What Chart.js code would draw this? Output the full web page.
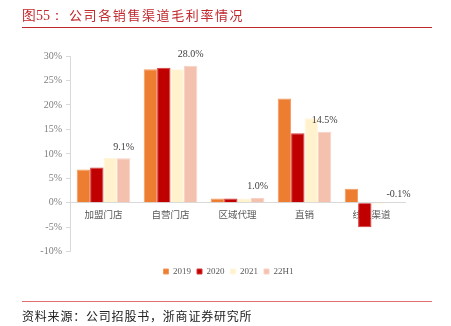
<!DOCTYPE html>
<html>
<head>
<meta charset="utf-8">
<script src="https://cdn.jsdelivr.net/npm/chart.js@4"></script>
<style>
  html, body { margin: 0; padding: 0; background: #fff; }
  #wrap { position: relative; width: 451px; height: 326px; overflow: hidden; }
  #chart { position: absolute; left: 0; top: 0; }
  .head { position: absolute; top: 5px; font: 13px "Noto Sans CJK SC", sans-serif; color: #C0282D; letter-spacing: 1.6px; white-space: nowrap; }
  .rule { position: absolute; left: 22px; width: 410px; height: 1px; }
  #src { position: absolute; left: 22px; top: 307px; font: 12px "Noto Sans CJK SC", sans-serif; color: #222; letter-spacing: 0.8px; white-space: nowrap; }
</style>
</head>
<body>
<div id="wrap">
  <canvas id="chart" width="451" height="326"></canvas>
  <div class="head" style="left:22px;letter-spacing:0"><span style="font-family:'Liberation Serif',serif;font-size:14px">图55：</span></div>
  <div class="head" style="left:69px">公司各销售渠道毛利率情况</div>
  <div class="rule" style="top:27px;background:#C0282D"></div>
  <div class="rule" style="top:301px;background:#E07070"></div>
  <div id="src">资料来源：公司招股书，浙商证券研究所</div>
</div>
<script>
// gross margin by sales channel, %
const channels = ['加盟门店', '自营门店', '区域代理', '直销', '线上渠道'];
const periods = ['2019', '2020', '2021', '22H1'];
const margin2019 = [6.8, 27.3, 0.9, 21.3, 2.9];
const margin2020 = [7.2, 27.6, 0.9, 14.2, -5.0];
const margin2021 = [9.2, 27.3, 0.9, 17.3, -0.3];
const margin22H1 = [9.1, 28.0, 1.0, 14.5, -0.1];
const yTicks = [-10, -5, 0, 5, 10, 15, 20, 25, 30];

const fills = ['#ED7D31', '#C00000', '#FFF2CC', '#F4C1AF'];
const edges = ['#F39A5C', '#D63A3A', '#FFF6DC', '#F8D2C4'];
const series = [margin2019, margin2020, margin2021, margin22H1];

// value labels only for the latest period
const lastLabels = {
  id: 'lastLabels',
  afterLayout(chart) {
    // nudge the legend row to the right
    chart.legend.left += 26;
    chart.legend.right += 26;
  },
  afterDatasetsDraw(chart) {
    const ctx = chart.ctx;
    const meta = chart.getDatasetMeta(3);
    const zero = chart.scales.y.getPixelForValue(0);
    ctx.save();
    ctx.font = '10px "Liberation Serif", serif';
    ctx.fillStyle = '#404040';
    ctx.textAlign = 'center';
    ctx.textBaseline = 'alphabetic';
    meta.data.forEach((bar, i) => {
      const v = margin22H1[i];
      const top = Math.min(bar.y, zero);
      const dx = v < 0 ? 7 : 0;
      ctx.fillText(v.toFixed(1) + '%', bar.x + dx, top - (v < 0 ? 6 : 8.5));
    });
    ctx.restore();
  }
};

new Chart(document.getElementById('chart'), {
  type: 'bar',
  data: {
    labels: channels,
    datasets: periods.map((p, k) => ({
      label: p,
      data: series[k],
      backgroundColor: fills[k],
      borderColor: edges[k],
      borderWidth: 1,
      categoryPercentage: 0.8,
      barPercentage: 1.0
    }))
  },
  options: {
    responsive: false,
    animation: false,
    layout: { padding: { left: 0, right: 46, top: 56, bottom: 40 } },
    plugins: {
      tooltip: { enabled: false },
      legend: {
        position: 'bottom',
        // empty title only adds room between the axis and the legend row
        title: { display: true, text: '', font: { size: 1 }, padding: { top: 0, bottom: 8 } },
        labels: {
          boxWidth: 5,
          boxHeight: 5,
          padding: 6,
          color: '#595959',
          font: { family: '"Liberation Serif", serif', size: 9 }
        }
      }
    },
    scales: {
      x: {
        position: { y: 0 },
        afterFit: s => { s.height = 0; },
        grid: { display: false, drawTicks: false },
        border: { display: true, color: '#D9D9D9', width: 1 },
        ticks: {
          padding: 6,
          color: '#595959',
          font: { family: '"Noto Sans CJK SC", sans-serif', size: 9.5 }
        }
      },
      y: {
        min: -10,
        max: 30,
        afterFit: s => { s.width = 70; },
        afterBuildTicks: s => { s.ticks = yTicks.map(v => ({ value: v })); },
        grid: { drawOnChartArea: false, tickLength: 4, color: '#D9D9D9' },
        border: { color: '#D9D9D9', width: 1 },
        ticks: {
          padding: 4,
          color: '#7F7F7F',
          font: { family: '"Liberation Serif", serif', size: 10 },
          callback: v => v + '%'
        }
      }
    }
  },
  plugins: [lastLabels]
});
</script>
</body>
</html>
